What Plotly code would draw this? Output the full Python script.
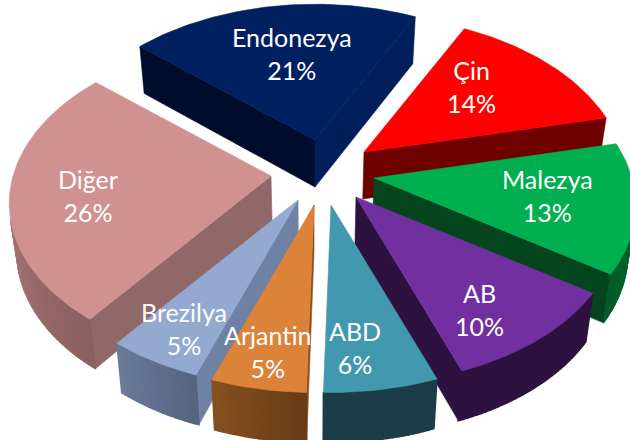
import math
import plotly.graph_objects as go

# ---- data ----
names = ["Endonezya", "Çin", "Malezya", "AB", "ABD", "Arjantin", "Brezilya", "Diğer"]
shares = [21, 14, 13, 10, 6, 5, 5, 26]

# ---- styling ----
top_colors = ["#002060", "#FF0000", "#00B050", "#7030A0", "#4298AF", "#DD8239", "#94A9D0", "#CF9291"]
start_side = ["#000C2C", "#5A0000", "#04451E", "#2D1240", "#1C3C47", "#8A5020", "#7082A3", "#916868"]
end_side = ["#001E5A", "#6E0000", "#04451E", "#2D1240", "#1C3C47", "#7A4720", "#5E6E8C", "#8E6464"]
arc_from = ["#00133A", "#8A0000", "#007A35", "#2D1240", "#1C3C47", "#683C18", "#566480", "#8A6060"]
arc_to = ["#00133A", "#8A0000", "#045A28", "#2D1240", "#1C3C47", "#85501F", "#6A7A9A", "#C89090"]

# exploded position of each slice's tip, and label anchors
tip_x = [315, 364, 374, 356, 331, 314, 298, 271]
tip_y = [140, 152, 178, 197, 205, 205, 200, 176]
label_x = [292, 471, 547, 479, 355, 268, 184, 88]
label_y = [53, 86, 195, 309, 347, 351, 328, 195]
draw_order = [0, 1, 7, 2, 6, 3, 5, 4]

START_DEG = -49.0
RX, RY = 258.0, 157.5
KX, KY = 0.17, 0.16
DEPTH = 47.0
W, H = 630, 440


def rim(tx, ty, deg):
    t = math.radians(deg)
    c, s = math.cos(t), math.sin(t)
    return tx + RX * s / (1 + KX * c), ty - RY * c / (1 + KY * c)


def drop(x, y, deg=None):
    """Point under (x, y) on the lower face of the solid."""
    extra = 0.0 if deg is None else 3.0 * max(0.0, -math.cos(math.radians(deg)))
    return x + (315 - x) * 0.025, y + DEPTH + extra


def mix(a, b, f):
    ca = [int(a[i:i + 2], 16) for i in (1, 3, 5)]
    cb = [int(b[i:i + 2], 16) for i in (1, 3, 5)]
    return "#%02X%02X%02X" % tuple(round(p + (q - p) * f) for p, q in zip(ca, cb))


def turn(p, q, r):
    return (q[0] - p[0]) * (r[1] - q[1]) - (q[1] - p[1]) * (r[0] - q[0])


fig = go.Figure()


def face(pts, color, width=0.6):
    pts = list(pts) + [pts[0]]
    fig.add_trace(go.Scatter(
        x=[p[0] for p in pts], y=[p[1] for p in pts], mode="lines", fill="toself",
        fillcolor=color, line=dict(color=color, width=width),
        hoverinfo="skip", showlegend=False))


edges = [START_DEG]
for v in shares:
    edges.append(edges[-1] + v / sum(shares) * 360.0)

for i in draw_order:
    a0, a1 = edges[i], edges[i + 1]
    tx, ty = tip_x[i], tip_y[i]
    n = max(16, int(a1 - a0))
    degs = [a0 + (a1 - a0) * k / n for k in range(n + 1)]
    arc = [rim(tx, ty, d) for d in degs]
    low = [drop(*p, d) for p, d in zip(arc, degs)]
    tip_low = drop(tx, ty)

    # only faces turned toward the viewer are drawn
    if turn((tx, ty), arc[0], low[0]) < 0:
        face([(tx, ty), arc[0], low[0], tip_low], start_side[i])
    if turn((tx, ty), arc[-1], low[-1]) > 0:
        face([(tx, ty), arc[-1], low[-1], tip_low], end_side[i])
    for k in range(n):
        if turn(arc[k], arc[k + 1], low[k + 1]) < 0:
            face([arc[k], arc[k + 1], low[k + 1], low[k]],
                 mix(arc_from[i], arc_to[i], k / max(1, n - 1)), width=1.5)

    face([(tx, ty)] + arc, top_colors[i])

for name, v, lx, ly in zip(names, shares, label_x, label_y):
    fig.add_annotation(x=lx, y=ly, xref="x", yref="y", text=f"{name}<br>{v}%", showarrow=False,
                       font=dict(family="Lato", size=25, color="#FFFFFF"), align="center")

fig.update_layout(
    width=W, height=H, margin=dict(l=0, r=0, t=0, b=0),
    paper_bgcolor="#FFFFFF", plot_bgcolor="#FFFFFF", showlegend=False,
    xaxis=dict(range=[0, W], visible=False, fixedrange=True),
    yaxis=dict(range=[H, 0], visible=False, fixedrange=True),
)
fig.write_html("out.html", config={"displayModeBar": False},
               post_script="document.body.style.margin='0';document.body.style.overflow='hidden';")
